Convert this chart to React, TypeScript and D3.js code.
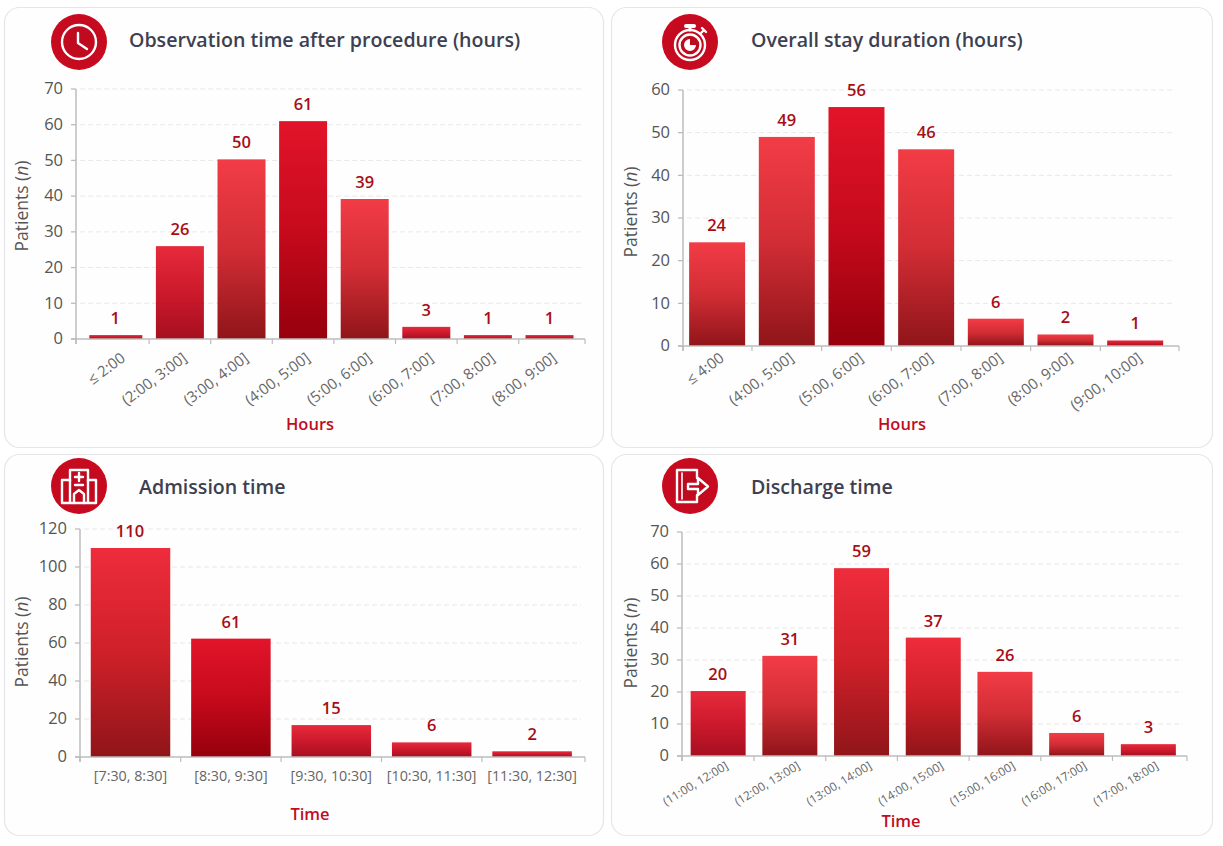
import React from "react";
import * as d3 from "d3";

// ---------- Data ----------
const obsCategories = ["≤ 2:00", "(2:00, 3:00]", "(3:00, 4:00]", "(4:00, 5:00]", "(5:00, 6:00]", "(6:00, 7:00]", "(7:00, 8:00]", "(8:00, 9:00]"];
const obsLabels = [1, 26, 50, 61, 39, 3, 1, 1];
const obsHeights = [1.1, 26, 50.3, 61, 39.2, 3.4, 1.1, 1.1];
const obsTicks = [0, 10, 20, 30, 40, 50, 60, 70];

const stayCategories = ["≤ 4:00", "(4:00, 5:00]", "(5:00, 6:00]", "(6:00, 7:00]", "(7:00, 8:00]", "(8:00, 9:00]", "(9:00, 10:00]"];
const stayLabels = [24, 49, 56, 46, 6, 2, 1];
const stayHeights = [24.3, 49, 56, 46.1, 6.4, 2.7, 1.3];
const stayTicks = [0, 10, 20, 30, 40, 50, 60];

const admCategories = ["[7:30, 8:30]", "[8:30, 9:30]", "[9:30, 10:30]", "[10:30, 11:30]", "[11:30, 12:30]"];
const admLabels = [110, 61, 15, 6, 2];
const admHeights = [110, 62.3, 16.8, 7.7, 3];
const admTicks = [0, 20, 40, 60, 80, 100, 120];

const disCategories = ["(11:00, 12:00]", "(12:00, 13:00]", "(13:00, 14:00]", "(14:00, 15:00]", "(15:00, 16:00]", "(16:00, 17:00]", "(17:00, 18:00]"];
const disLabels = [20, 31, 59, 37, 26, 6, 3];
const disHeights = [20.3, 31.3, 58.7, 37, 26.3, 7.2, 3.7];
const disTicks = [0, 10, 20, 30, 40, 50, 60, 70];

// ---------- Styles ----------
const FONT = "'Open Sans', 'Noto Sans', sans-serif";
const ramps: Record<string, [string, string, string]> = {
  fade: ["#f23c46", "#d22d35", "#8f1519"],
  warm: ["#ee2c3c", "#cf2029", "#8f1519"],
  deep: ["#e2142a", "#c60a1c", "#96000c"],
  mid: ["#e62a3b", "#cc1a2c", "#a60f20"],
};

type Icon = "clock" | "watch" | "hospital" | "exit";
interface Panel {
  id: string; title: string; icon: Icon;
  box: [number, number, number, number];
  iconC: [number, number]; titleX: number; titleY: number;
  axisX: [number, number]; band: [number, number]; y: [number, number];
  yMax: number; ticks: number[]; cats: string[]; labels: number[]; heights: number[];
  barW: number; firstExtra: number; ramp: string[];
  xTitle: string; xTitleAt: [number, number]; yTitleAt: [number, number];
  rot: number; catSize: number; catDx: number; catY: number;
}

const panels: Panel[] = [
  {
    id: "a", title: "Observation time after procedure (hours)", icon: "clock",
    box: [4, 7, 599, 440], iconC: [79, 42], titleX: 129, titleY: 47,
    axisX: [76, 585], band: [87.5, 580.3], y: [339, 89], yMax: 70, ticks: obsTicks,
    cats: obsCategories, labels: obsLabels, heights: obsHeights, barW: 48, firstExtra: 5,
    ramp: ["mid", "mid", "fade", "deep", "fade", "mid", "mid", "mid"],
    xTitle: "Hours", xTitleAt: [310, 430], yTitleAt: [28, 206],
    rot: -37, catSize: 15, catDx: 8, catY: 360,
  },
  {
    id: "b", title: "Overall stay duration (hours)", icon: "watch",
    box: [611, 7, 601, 440], iconC: [690, 42], titleX: 751, titleY: 47,
    axisX: [683, 1179], band: [682.3, 1170], y: [346, 90], yMax: 60, ticks: stayTicks,
    cats: stayCategories, labels: stayLabels, heights: stayHeights, barW: 56, firstExtra: 0,
    ramp: ["fade", "fade", "deep", "fade", "fade", "fade", "mid"],
    xTitle: "Hours", xTitleAt: [902, 430], yTitleAt: [637, 212],
    rot: -37, catSize: 15, catDx: 8, catY: 360,
  },
  {
    id: "c", title: "Admission time", icon: "hospital",
    box: [4, 454, 599, 381], iconC: [79, 486], titleX: 139, titleY: 494,
    axisX: [80, 585], band: [80.3, 582.3], y: [757, 529], yMax: 120, ticks: admTicks,
    cats: admCategories, labels: admLabels, heights: admHeights, barW: 79.5, firstExtra: 0,
    ramp: ["warm", "deep", "mid", "mid", "mid"],
    xTitle: "Time", xTitleAt: [310, 820], yTitleAt: [28, 642],
    rot: 0, catSize: 14.3, catDx: 0, catY: 781,
  },
  {
    id: "d", title: "Discharge time", icon: "exit",
    box: [611, 454, 601, 381], iconC: [690, 486], titleX: 751, titleY: 494,
    axisX: [682, 1187], band: [682.3, 1184.2], y: [756, 532], yMax: 70, ticks: disTicks,
    cats: disCategories, labels: disLabels, heights: disHeights, barW: 55, firstExtra: 0,
    ramp: ["mid", "fade", "warm", "warm", "fade", "fade", "mid"],
    xTitle: "Time", xTitleAt: [901, 827], yTitleAt: [637, 643],
    rot: -31, catSize: 11.8, catDx: 11, catY: 768,
  },
];

function IconGlyph({ kind }: { kind: Icon }) {
  const s = { fill: "none", stroke: "#fff", strokeWidth: 2.4, strokeLinecap: "round" as const, strokeLinejoin: "round" as const };
  if (kind === "clock") {
    return (
      <g {...s}>
        <circle r={17} />
        <path d="M-1 -9 L-1 1 L8 7" />
      </g>
    );
  }
  if (kind === "watch") {
    return (
      <g {...s}>
        <circle cy={3} r={15} />
        <circle cy={3} r={10.5} />
        <path d="M-4 -16 H4" strokeWidth={4} />
        <path d="M0 -16 V-12" strokeWidth={3} />
        <path d="M11 -9 L14 -12 M12 -14 L16 -10" />
        <path d="M0 -3 V3 H6 A6 6 0 1 1 0 -3 Z" fill="#fff" stroke="none" />
      </g>
    );
  }
  if (kind === "hospital") {
    return (
      <g {...s}>
        <path d="M-9 -5 V-16 H9 V-5" />
        <path d="M-9 17 V-6 H-17 V17 H-5 V8 L0 4 L5 8 V17 H17 V-6 H9 V17" />
        <path d="M-5 17 H5" />
        <path d="M0 -13 V-5 M-4 -9 H4 M-4 -1 H4" />
      </g>
    );
  }
  return (
    <g {...s}>
      <path d="M7 -8 V-16 H-13 V16 H7 V9" />
      <path d="M-8 -13 V13" strokeWidth={1.6} />
      <path d="M-2 -2 H8 V-8 L18 0.5 L8 9 V3 H-2 Z" />
    </g>
  );
}

function Chart({ p }: { p: Panel }) {
  const x = d3.scaleBand<string>().domain(p.cats).range(p.band);
  const y = d3.scaleLinear().domain([0, p.yMax]).range(p.y);
  const axisColor = "#bdbdbd";
  const boundaries = [p.axisX[0], ...p.cats.slice(1).map((c) => x(c) as number), p.axisX[1]];
  return (
    <g>
      <rect x={p.box[0] + 0.5} y={p.box[1] + 0.5} width={p.box[2]} height={p.box[3]} rx={15} fill="#fefefe" stroke="#e6e6e8" strokeWidth={1.2} />
      <g transform={`translate(${p.iconC[0]},${p.iconC[1]})`}>
        <circle r={28} fill="url(#badge)" />
        <IconGlyph kind={p.icon} />
      </g>
      <text x={p.titleX} y={p.titleY} fontFamily={FONT} fontWeight={600} fontSize={19.6} fill="#3d4050">{p.title}</text>

      {p.ticks.map((t) => (
        <g key={t}>
          {t > 0 && <line x1={p.axisX[0] + 4} x2={p.axisX[1] - 4} y1={y(t)} y2={y(t)} stroke="#e8e8e8" strokeDasharray="5 3" />}
          <line x1={p.axisX[0] - 5} x2={p.axisX[0]} y1={y(t)} y2={y(t)} stroke={axisColor} strokeWidth={1.3} />
          <text x={p.axisX[0] - 13} y={y(t) - 0.5} dy="0.35em" textAnchor="end" fontFamily={FONT} fontSize={16.5} fill="#555">{t}</text>
        </g>
      ))}

      {p.cats.map((c, i) => {
        const cx = (x(c) as number) + x.bandwidth() / 2;
        const top = y(p.heights[i]);
        const extra = i === 0 ? p.firstExtra : 0;
        return (
          <g key={c}>
            <rect x={cx - p.barW / 2 - extra} y={top} width={p.barW + extra} height={p.y[0] - top} fill={`url(#${p.ramp[i]})`} />
            <text x={cx - extra / 2 - (i === 0 ? 0.5 : 0)} y={top - 11} textAnchor="middle" fontFamily={FONT} fontWeight={600} fontSize={16.5} fill="#a80d16">{p.labels[i]}</text>
            {p.rot === 0 ? (
              <text x={cx} y={p.catY} textAnchor="middle" fontFamily={FONT} fontSize={p.catSize} fill="#666">{c}</text>
            ) : (
              <text transform={`translate(${cx + p.catDx},${p.catY}) rotate(${p.rot})`} textAnchor="end" fontFamily={FONT} fontSize={p.catSize} fill="#666">{c}</text>
            )}
          </g>
        );
      })}

      <line x1={p.axisX[0]} x2={p.axisX[0]} y1={p.y[1]} y2={p.y[0] + 5} stroke={axisColor} strokeWidth={1.5} />
      <line x1={p.axisX[0] - 5} x2={p.axisX[1]} y1={p.y[0]} y2={p.y[0]} stroke={axisColor} strokeWidth={1.5} />
      {boundaries.map((b, i) => (
        <line key={i} x1={b} x2={b} y1={p.y[0]} y2={p.y[0] + 5} stroke={axisColor} strokeWidth={1.2} />
      ))}

      <text x={p.xTitleAt[0]} y={p.xTitleAt[1]} textAnchor="middle" fontFamily={FONT} fontWeight={600} fontSize={16.5} fill="#c00d1e">{p.xTitle}</text>
      <text transform={`translate(${p.yTitleAt[0]},${p.yTitleAt[1]}) rotate(-90)`} textAnchor="middle" fontFamily={FONT} fontSize={17.5} fill="#555">
        Patients (<tspan fontStyle="italic">n</tspan>)
      </text>
    </g>
  );
}

export default function App() {
  return (
    <svg width={1223} height={846} viewBox="0 0 1223 846" style={{ position: "absolute", left: 0, top: 0, display: "block", background: "#fff" }}>
      <defs>
        {Object.entries(ramps).map(([k, [a, m, b]]) => (
          <linearGradient key={k} id={k} x1="0" y1="0" x2="0" y2="1">
            <stop offset="0" stopColor={a} />
            <stop offset="0.5" stopColor={m} />
            <stop offset="1" stopColor={b} />
          </linearGradient>
        ))}
        <radialGradient id="badge" cx="0.5" cy="0.5" r="0.6">
          <stop offset="0" stopColor="#bb0a1e" />
          <stop offset="1" stopColor="#cc0a20" />
        </radialGradient>
      </defs>
      {panels.map((p) => <Chart key={p.id} p={p} />)}
    </svg>
  );
}
